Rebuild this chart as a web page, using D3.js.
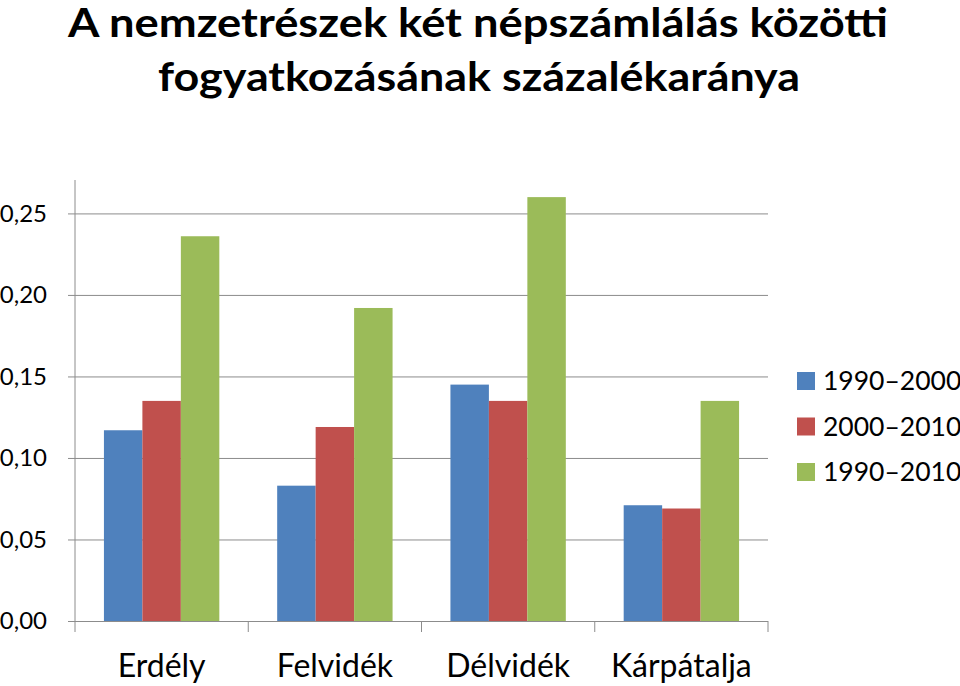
<!DOCTYPE html>
<html lang="hu">
<head>
<meta charset="utf-8">
<title>Nemzetrészek fogyatkozása</title>
<script src="https://d3js.org/d3.v7.min.js"></script>
<style>
  body { margin: 0; background: #fff; }
  text { font-family: Lato, "Open Sans", sans-serif; fill: #000; }
</style>
</head>
<body>
<script>
// data
const regions = ["Erdély", "Felvidék", "Délvidék", "Kárpátalja"];
const periods = ["1990–2000", "2000–2010", "1990–2010"];
const v1990_2000 = [0.117, 0.083, 0.145, 0.071];
const v2000_2010 = [0.135, 0.119, 0.135, 0.069];
const v1990_2010 = [0.236, 0.192, 0.260, 0.135];
const yTicks = [0, 0.05, 0.10, 0.15, 0.20, 0.25];
const colors = ["#4F81BD", "#C0504D", "#9BBB59"];

const seriesVals = [v1990_2000, v2000_2010, v1990_2010];

const w = 960, h = 686;
const mLeft = 75, mRight = 768, mTop = 180, mBottom = 621;

const svg = d3.select("body").append("svg")
  .attr("width", w).attr("height", h);

// title
const titleLines = [
  {t: "A nemzetrészek két népszámlálás közötti", x: 68, len: 820, y: 37},
  {t: "fogyatkozásának százalékaránya", x: 158, len: 642, y: 91}
];
svg.selectAll("text.title").data(titleLines).enter().append("text")
  .attr("class", "title")
  .attr("x", d => d.x).attr("y", d => d.y)
  .attr("textLength", d => d.len)
  .attr("lengthAdjust", "spacingAndGlyphs")
  .style("font-size", "40px").style("font-weight", "bold")
  .text(d => d.t);

const x = d3.scaleBand().domain(regions).range([mLeft, mRight]);
const xi = d3.scaleBand().domain(periods)
  .range([x.bandwidth() * 0.167, x.bandwidth() * 0.833]);
const y = d3.scaleLinear().domain([0, 0.2705]).range([mBottom, mTop]);

// gridlines + y labels
const yAxis = d3.axisLeft(y).tickValues(yTicks)
  .tickSize(-(mRight - mLeft))
  .tickFormat(d => d3.format(".2f")(d).replace(".", ","));
const gy = svg.append("g").attr("transform", `translate(${mLeft},0)`).call(yAxis);
gy.select(".domain").remove();
gy.selectAll(".tick line").attr("stroke", "#8c8c8c").attr("x1", -7);
gy.selectAll(".tick text")
  .attr("x", -28)
  .style("font-size", "24px")
  .style("font-family", "Lato, sans-serif");

// y axis line
svg.append("line")
  .attr("x1", mLeft).attr("x2", mLeft)
  .attr("y1", mTop).attr("y2", mBottom + 11)
  .attr("stroke", "#8c8c8c");

// bars
const groups = svg.selectAll("g.region").data(regions).enter().append("g")
  .attr("class", "region")
  .attr("transform", d => `translate(${x(d)},0)`);
groups.selectAll("rect")
  .data((d, i) => periods.map((p, j) => ({p: p, v: seriesVals[j][i], c: colors[j]})))
  .enter().append("rect")
  .attr("x", d => xi(d.p))
  .attr("width", xi.bandwidth())
  .attr("y", d => y(d.v))
  .attr("height", d => y(0) - y(d.v))
  .attr("fill", d => d.c);

// x axis
const xAxis = d3.axisBottom(x).tickSize(0).tickPadding(0);
const gx = svg.append("g").attr("transform", `translate(0,${mBottom})`).call(xAxis);
gx.select(".domain").attr("stroke", "#8c8c8c").attr("d", `M${mLeft},0.5H${mRight}`);
gx.selectAll(".tick text")
  .attr("y", 56)
  .attr("dy", "0")
  .style("font-size", "32px")
  .style("font-family", "Lato, sans-serif");
// category separators
const seps = regions.map(r => x(r) + x.bandwidth());
svg.selectAll("line.sep").data(seps).enter().append("line")
  .attr("class", "sep")
  .attr("x1", d => d).attr("x2", d => d)
  .attr("y1", mBottom).attr("y2", mBottom + 11)
  .attr("stroke", "#8c8c8c");

// legend
const lg = svg.selectAll("g.leg").data(periods).enter().append("g")
  .attr("class", "leg")
  .attr("transform", (d, i) => `translate(797,${372 + i * 45.5})`);
lg.append("rect").attr("width", 18).attr("height", 18)
  .attr("fill", (d, i) => colors[i]);
lg.append("text").attr("x", 26).attr("y", 18)
  .style("font-size", "26.5px")
  .text(d => d);
</script>
</body>
</html>
